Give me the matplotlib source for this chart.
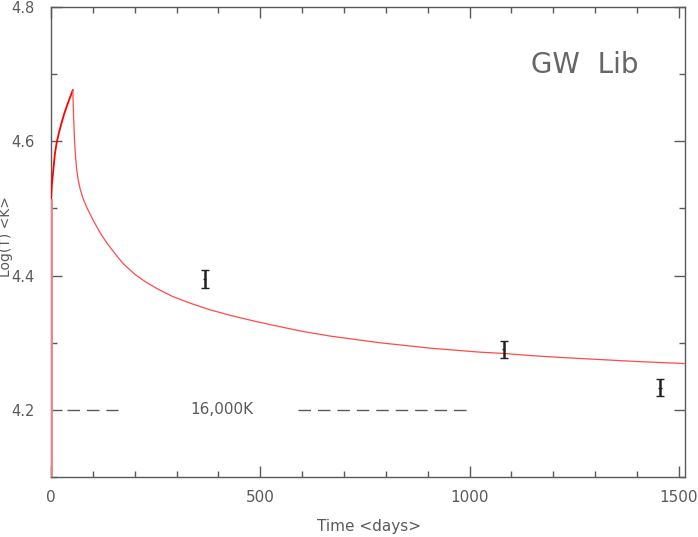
import numpy as np
import matplotlib.pyplot as plt
from matplotlib.ticker import MultipleLocator

# model curve: rise to peak then cooling
rise_t = [0, 0, 2, 5.5, 9, 13.5, 19, 25, 31, 37, 44, 52]
rise_logT = [4.10, 4.513, 4.535, 4.557, 4.580, 4.598, 4.613, 4.627,
             4.640, 4.651, 4.663, 4.676]
decay_t = [52, 53, 54, 56, 58, 61, 65, 70, 77, 85, 93, 101, 109, 120, 133,
           150, 172, 200, 225, 252, 290, 332, 380, 427, 480, 546, 600, 666,
           725, 785, 845, 904, 964, 1024, 1083, 1143, 1220, 1310, 1400, 1513]
decay_logT = [4.676, 4.655, 4.635, 4.604, 4.582, 4.560, 4.542, 4.528,
              4.514, 4.502, 4.492, 4.482, 4.473, 4.461, 4.449, 4.435,
              4.418, 4.402, 4.391, 4.381, 4.369, 4.359, 4.349, 4.341,
              4.333, 4.324, 4.317, 4.310, 4.305, 4.300, 4.296, 4.292,
              4.289, 4.286, 4.284, 4.281, 4.278, 4.275, 4.272, 4.269]

# observations
obs_t = [367, 1082, 1455]
obs_logT = [4.395, 4.290, 4.233]
obs_err = [0.013, 0.013, 0.013]

ref_level = 4.2
ref_segments = [(38, 160), (590, 1000)]

grey = "#5a5a5a"
fig = plt.figure(figsize=(6.98, 5.37), dpi=100)
ax = fig.add_axes([0.0731, 0.1117, 0.9083, 0.8753])

ax.plot(rise_t, rise_logT, color="red", lw=1.3, zorder=3)
ax.plot(decay_t, decay_logT, color="#ff4a4a", lw=0.9, zorder=3)
ax.plot([0, 0], [4.1, 4.513], color="#f08080", lw=2.0, zorder=4)

ax.errorbar(obs_t, obs_logT, yerr=obs_err, fmt="none",
            ecolor="#222222", elinewidth=1.8, capsize=3, capthick=1.0, zorder=5)
ax.errorbar(obs_t, obs_logT, xerr=4, fmt="none",
            ecolor="#222222", elinewidth=1.0, capsize=0, zorder=5)

for x0, x1 in ref_segments:
    ax.plot([x0, x1], [ref_level, ref_level], color=grey, lw=1.0,
            dashes=(9, 5))
ax.text(409, ref_level, "16,000K", color=grey, fontsize=11,
        ha="center", va="center")
ax.text(1275, 4.714, "GW  Lib", color="#666666", fontsize=20,
        ha="center", va="center")

ax.set_xlim(0, 1515)
ax.set_ylim(4.1, 4.8)
ax.xaxis.set_major_locator(MultipleLocator(500))
ax.xaxis.set_minor_locator(MultipleLocator(100))
ax.set_yticks([4.2, 4.4, 4.6, 4.8])
ax.set_yticks([4.1, 4.3, 4.5, 4.7], minor=True)
ax.tick_params(which="both", direction="in", top=True, right=True,
               colors=grey, labelsize=11)
ax.tick_params(which="major", length=8, width=1)
ax.tick_params(which="minor", length=4, width=1)
ax.tick_params(axis="x", pad=9)
ax.tick_params(axis="y", pad=12, labelsize=10.5)
for s in ax.spines.values():
    s.set_color(grey)
    s.set_linewidth(1)

fig.text(0.5285, 0.019, "Time <days>", color=grey, fontsize=11,
         ha="center", va="center")
fig.text(0.009, 0.56, "Log(T) <K>", color=grey, fontsize=10,
         ha="center", va="center", rotation=90)

fig.savefig("out.png", dpi=100)
